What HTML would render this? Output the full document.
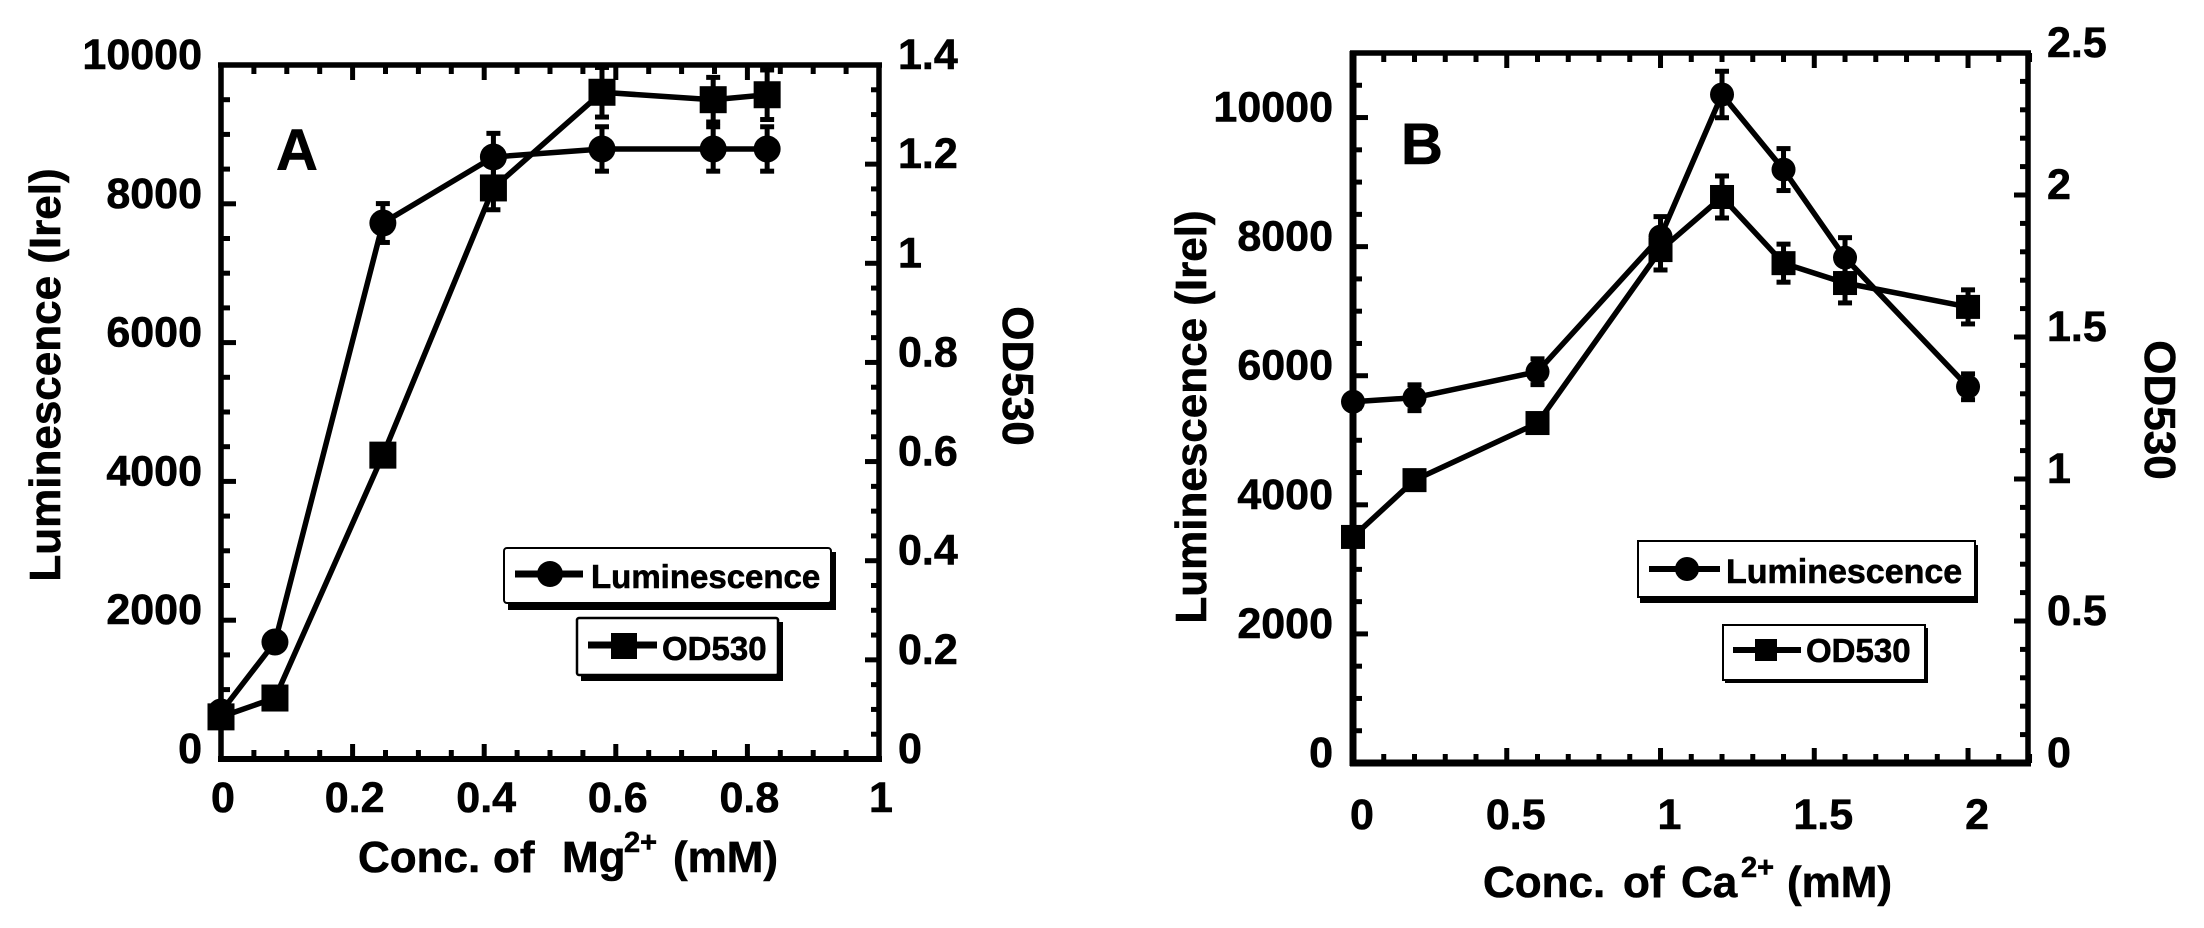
<!DOCTYPE html>
<html lang="en">
<head>
<meta charset="utf-8">
<title>Luminescence and OD530 versus Mg2+ and Ca2+ concentration</title>
<style>
  html, body { margin: 0; padding: 0; background: #fff; }
  svg { display: block; }
  text { font-family: "Liberation Sans", Arial, sans-serif; font-weight: bold; fill: #000; stroke: #000; stroke-width: 0.6px; }
</style>
</head>
<body>
<svg id="figure" xmlns="http://www.w3.org/2000/svg" width="2204" height="928" viewBox="0 0 2204 928">
  <rect x="0" y="0" width="2204" height="928" fill="#fff"/>

  <g id="panel-a">
    <text x="276" y="170" font-size="58">A</text>
    <text transform="translate(60 375) rotate(-90)" text-anchor="middle" font-size="44">Luminescence (Irel)</text>
    <text transform="translate(1003 376) rotate(90)" text-anchor="middle" font-size="44">OD530</text>
    <text y="872" font-size="44"><tspan x="358">Conc.</tspan><tspan x="493">of</tspan><tspan x="562">Mg</tspan><tspan x="624" dy="-20" font-size="29">2+</tspan><tspan x="673" dy="20">(mM)</tspan></text>
  </g>

  <g id="panel-b">
    <text x="1401" y="164" font-size="58">B</text>
    <text transform="translate(1206 417) rotate(-90)" text-anchor="middle" font-size="44">Luminescence (Irel)</text>
    <text transform="translate(2145 410) rotate(90)" text-anchor="middle" font-size="44">OD530</text>
    <text y="897" font-size="44"><tspan x="1483">Conc.</tspan><tspan x="1623">of</tspan><tspan x="1681">Ca</tspan><tspan x="1741" dy="-20" font-size="29">2+</tspan><tspan x="1787" dy="20">(mM)</tspan></text>
  </g>

  <g id="legend-a">
    <g>
      <rect x="508" y="552" width="328" height="58" fill="#000"/>
      <rect x="504" y="548" width="327" height="55" rx="3" fill="#fff" stroke="#000" stroke-width="2"/>
      <line x1="515" y1="574" x2="583" y2="574" stroke="#000" stroke-width="7"/>
      <circle cx="550" cy="574" r="13" fill="#000"/>
      <text x="591" y="588" font-size="33">Luminescence</text>
    </g>
    <g>
      <rect x="581" y="622" width="202" height="59" fill="#000"/>
      <rect x="577" y="618" width="201" height="57" rx="2" fill="#fff" stroke="#000" stroke-width="2.5"/>
      <line x1="588" y1="645" x2="657" y2="645" stroke="#000" stroke-width="7"/>
      <rect x="611" y="633" width="26" height="26" fill="#000"/>
      <text x="662" y="660" font-size="33">OD530</text>
    </g>
  </g>

  <g id="legend-b">
    <g>
      <rect x="1640" y="545" width="338" height="58" fill="#000"/>
      <rect x="1638" y="541" width="337" height="56" fill="#fff" stroke="#000" stroke-width="2"/>
      <line x1="1649" y1="569" x2="1720" y2="569" stroke="#000" stroke-width="6"/>
      <circle cx="1687" cy="569" r="12" fill="#000"/>
      <text x="1726" y="583" font-size="34">Luminescence</text>
    </g>
    <g>
      <rect x="1725" y="628" width="203" height="55" fill="#000"/>
      <rect x="1723" y="625" width="202" height="55" fill="#fff" stroke="#000" stroke-width="2"/>
      <line x1="1733" y1="650" x2="1801" y2="650" stroke="#000" stroke-width="6"/>
      <rect x="1755" y="639" width="22" height="22" fill="#000"/>
      <text x="1806" y="662" font-size="33">OD530</text>
    </g>
  </g>
</svg>

<script>
// Panel A data
const panelAConcentration = [0, 0.082, 0.246, 0.414, 0.579, 0.748, 0.83];
const panelALuminescence = [677, 1686, 7723, 8675, 8790, 8790, 8790];
const panelALuminescenceError = [0, 0, 280, 340, 320, 320, 320];
const panelAOd530 = [0.085, 0.123, 0.613, 1.152, 1.345, 1.33, 1.34];
const panelAOd530Error = [0, 0, 0, 0.044, 0.05, 0.045, 0.05];
const panelAXTicks = [0, 0.2, 0.4, 0.6, 0.8, 1];
const panelAXTickLabels = ['0', '0.2', '0.4', '0.6', '0.8', '1'];
const panelALeftTicks = [0, 2000, 4000, 6000, 8000, 10000];
const panelALeftTickLabels = ['0', '2000', '4000', '6000', '8000', '10000'];
const panelARightTicks = [0, 0.2, 0.4, 0.6, 0.8, 1, 1.2, 1.4];
const panelARightTickLabels = ['0', '0.2', '0.4', '0.6', '0.8', '1', '1.2', '1.4'];

// Panel B data
const panelBConcentration = [0, 0.2, 0.6, 1, 1.2, 1.4, 1.6, 2];
const panelBLuminescence = [5597, 5659, 6062, 8155, 10357, 9194, 7829, 5829];
const panelBLuminescenceError = [0, 200, 200, 310, 360, 325, 310, 200];
const panelBOd530 = [0.796, 0.996, 1.197, 1.806, 1.993, 1.76, 1.69, 1.606];
const panelBOd530Error = [0, 0, 0, 0.07, 0.074, 0.067, 0.07, 0.06];
const panelBXTicks = [0, 0.5, 1, 1.5, 2];
const panelBXTickLabels = ['0', '0.5', '1', '1.5', '2'];
const panelBLeftTicks = [0, 2000, 4000, 6000, 8000, 10000];
const panelBLeftTickLabels = ['0', '2000', '4000', '6000', '8000', '10000'];
const panelBRightTicks = [0, 0.5, 1, 1.5, 2, 2.5];
const panelBRightTickLabels = ['0', '0.5', '1', '1.5', '2', '2.5'];

const SVG_NS = 'http://www.w3.org/2000/svg';

function segment(parent, x1, y1, x2, y2, width) {
  const el = document.createElementNS(SVG_NS, 'line');
  el.setAttribute('x1', x1);
  el.setAttribute('y1', y1);
  el.setAttribute('x2', x2);
  el.setAttribute('y2', y2);
  el.setAttribute('stroke', '#000');
  el.setAttribute('stroke-width', width);
  parent.appendChild(el);
  return el;
}

function label(parent, x, y, anchor, content) {
  const el = document.createElementNS(SVG_NS, 'text');
  el.setAttribute('x', x);
  el.setAttribute('y', y);
  el.setAttribute('text-anchor', anchor);
  el.setAttribute('font-size', 43);
  el.textContent = content;
  parent.appendChild(el);
  return el;
}

function group(parent) {
  const el = document.createElementNS(SVG_NS, 'g');
  parent.appendChild(el);
  return el;
}

function drawPanel(cfg) {
  const root = document.getElementById(cfg.id);
  const f = cfg.frame;
  const xScale = v => f.left + (v / cfg.xMax) * (f.right - f.left);
  const leftScale = v => f.bottom - (v / cfg.leftMax) * (f.bottom - f.top);
  const rightScale = v => f.bottom - (v / cfg.rightMax) * (f.bottom - f.top);

  // Axis frame
  const axisGroup = group(root);
  
  

  const bottomAxis = segment(axisGroup, f.left - 3, f.bottom, f.right + 3, f.bottom, cfg.bottomWidth);
  
  

  const topAxis = segment(axisGroup, f.left - 3, f.top, f.right + 3, f.top, 5.5);
  
  

  const leftAxis = segment(axisGroup, f.left, f.top - 2, f.left, f.bottom + 3, cfg.leftWidth);
  
  

  const rightAxis = segment(axisGroup, f.right, f.top - 2, f.right, f.bottom + 3, 5.5);
  
  

  // X ticks on bottom and top
  const xCount = Math.round(cfg.xMax / cfg.xMinor);
  for (let i = 0; i <= xCount; i++) {
    const v = i * cfg.xMinor;
    const isMajor = cfg.xTicks.some(t => Math.abs(t - v) < 1e-6);
    const len = isMajor ? 15 : 9;
    const x = xScale(v);
    const bottomTick = segment(axisGroup, x, f.bottom, x, f.bottom - len, 5);
    
    
    const topTick = segment(axisGroup, x, f.top, x, f.top + len, 5);
    
    
  }

  // Left ticks
  const leftCount = Math.round(cfg.leftMax / cfg.leftMinor);
  for (let i = 0; i <= leftCount; i++) {
    const v = i * cfg.leftMinor;
    const isMajor = cfg.leftTicks.some(t => Math.abs(t - v) < 1e-6);
    const y = leftScale(v);
    const tick = segment(axisGroup, f.left, y, f.left + (isMajor ? 15 : 9), y, 5);
    
    
  }

  // Right ticks
  const rightCount = Math.round(cfg.rightMax / cfg.rightMinor);
  for (let i = 0; i <= rightCount; i++) {
    const v = i * cfg.rightMinor;
    const isMajor = cfg.rightTicks.some(t => Math.abs(t - v) < 1e-6);
    const y = rightScale(v);
    const tick = segment(axisGroup, f.right, y, f.right - (isMajor ? 14 : 8), y, 5);
    
    
  }

  // Tick labels
  cfg.xTicks.forEach((t, i) => {
    const el = label(root, xScale(t) + cfg.xLabelShift, cfg.xLabelBaseline, 'middle', cfg.xTickLabels[i]);
    
    
  });
  cfg.leftTicks.forEach((t, i) => {
    const el = label(root, cfg.leftLabelX, leftScale(t) + 4, 'end', cfg.leftTickLabels[i]);
    
    
  });
  cfg.rightTicks.forEach((t, i) => {
    const el = label(root, cfg.rightLabelX, rightScale(t) + 4, 'start', cfg.rightTickLabels[i]);
    
    
  });

  // Series
  drawSeries(root, 'luminescence', 'circle', cfg, cfg.x, cfg.luminescence, cfg.luminescenceError, xScale, leftScale);
  drawSeries(root, 'od530', 'square', cfg, cfg.x, cfg.od530, cfg.od530Error, xScale, rightScale);
}

function drawSeries(root, name, shape, cfg, xs, ys, errs, xScale, yScale) {
  const seriesGroup = group(root);
  
  

  const pts = xs.map((x, i) => xScale(x).toFixed(1) + ',' + yScale(ys[i]).toFixed(1)).join(' ');
  const poly = document.createElementNS(SVG_NS, 'polyline');
  poly.setAttribute('points', pts);
  poly.setAttribute('fill', 'none');
  poly.setAttribute('stroke', '#000');
  poly.setAttribute('stroke-width', 5.5);
  poly.setAttribute('stroke-linejoin', 'round');
  
  
  seriesGroup.appendChild(poly);

  xs.forEach((x, i) => {
    const cx = xScale(x);
    const cy = yScale(ys[i]);
    if (errs[i] > 0) {
      const top = yScale(ys[i] + errs[i]);
      const bottom = yScale(ys[i] - errs[i]);
      const stem = segment(seriesGroup, cx, top, cx, bottom, 5);
      
      
      const capTop = segment(seriesGroup, cx - 7, top, cx + 7, top, 5);
      
      
      const capBottom = segment(seriesGroup, cx - 7, bottom, cx + 7, bottom, 5);
      
      
    }
    let marker;
    if (shape === 'circle') {
      marker = document.createElementNS(SVG_NS, 'circle');
      marker.setAttribute('cx', cx);
      marker.setAttribute('cy', cy);
      marker.setAttribute('r', cfg.markerSize / 2);
    } else {
      marker = document.createElementNS(SVG_NS, 'rect');
      marker.setAttribute('x', cx - cfg.markerSize / 2);
      marker.setAttribute('y', cy - cfg.markerSize / 2);
      marker.setAttribute('width', cfg.markerSize);
      marker.setAttribute('height', cfg.markerSize);
    }
    marker.setAttribute('fill', '#000');
    
    
    seriesGroup.appendChild(marker);
  });
}

drawPanel({
  id: 'panel-a',
  frame: { left: 221, right: 879, top: 65, bottom: 759 },
  leftWidth: 5.5, bottomWidth: 6, markerSize: 27,
  xMax: 1, xMinor: 0.05, leftMax: 10000, leftMinor: 500, rightMax: 1.4, rightMinor: 0.05,
  x: panelAConcentration,
  luminescence: panelALuminescence, luminescenceError: panelALuminescenceError,
  od530: panelAOd530, od530Error: panelAOd530Error,
  xTicks: panelAXTicks, xTickLabels: panelAXTickLabels,
  leftTicks: panelALeftTicks, leftTickLabels: panelALeftTickLabels,
  rightTicks: panelARightTicks, rightTickLabels: panelARightTickLabels,
  xLabelShift: 2, xLabelBaseline: 812, leftLabelX: 202, rightLabelX: 898
});

drawPanel({
  id: 'panel-b',
  frame: { left: 1353, right: 2028, top: 53, bottom: 763 },
  leftWidth: 7, bottomWidth: 7, markerSize: 24,
  xMax: 2.195, xMinor: 0.1, leftMax: 11000, leftMinor: 500, rightMax: 2.5, rightMinor: 0.1,
  x: panelBConcentration,
  luminescence: panelBLuminescence, luminescenceError: panelBLuminescenceError,
  od530: panelBOd530, od530Error: panelBOd530Error,
  xTicks: panelBXTicks, xTickLabels: panelBXTickLabels,
  leftTicks: panelBLeftTicks, leftTickLabels: panelBLeftTickLabels,
  rightTicks: panelBRightTicks, rightTickLabels: panelBRightTickLabels,
  xLabelShift: 9, xLabelBaseline: 829, leftLabelX: 1333, rightLabelX: 2047
});
</script>
</body>
</html>
